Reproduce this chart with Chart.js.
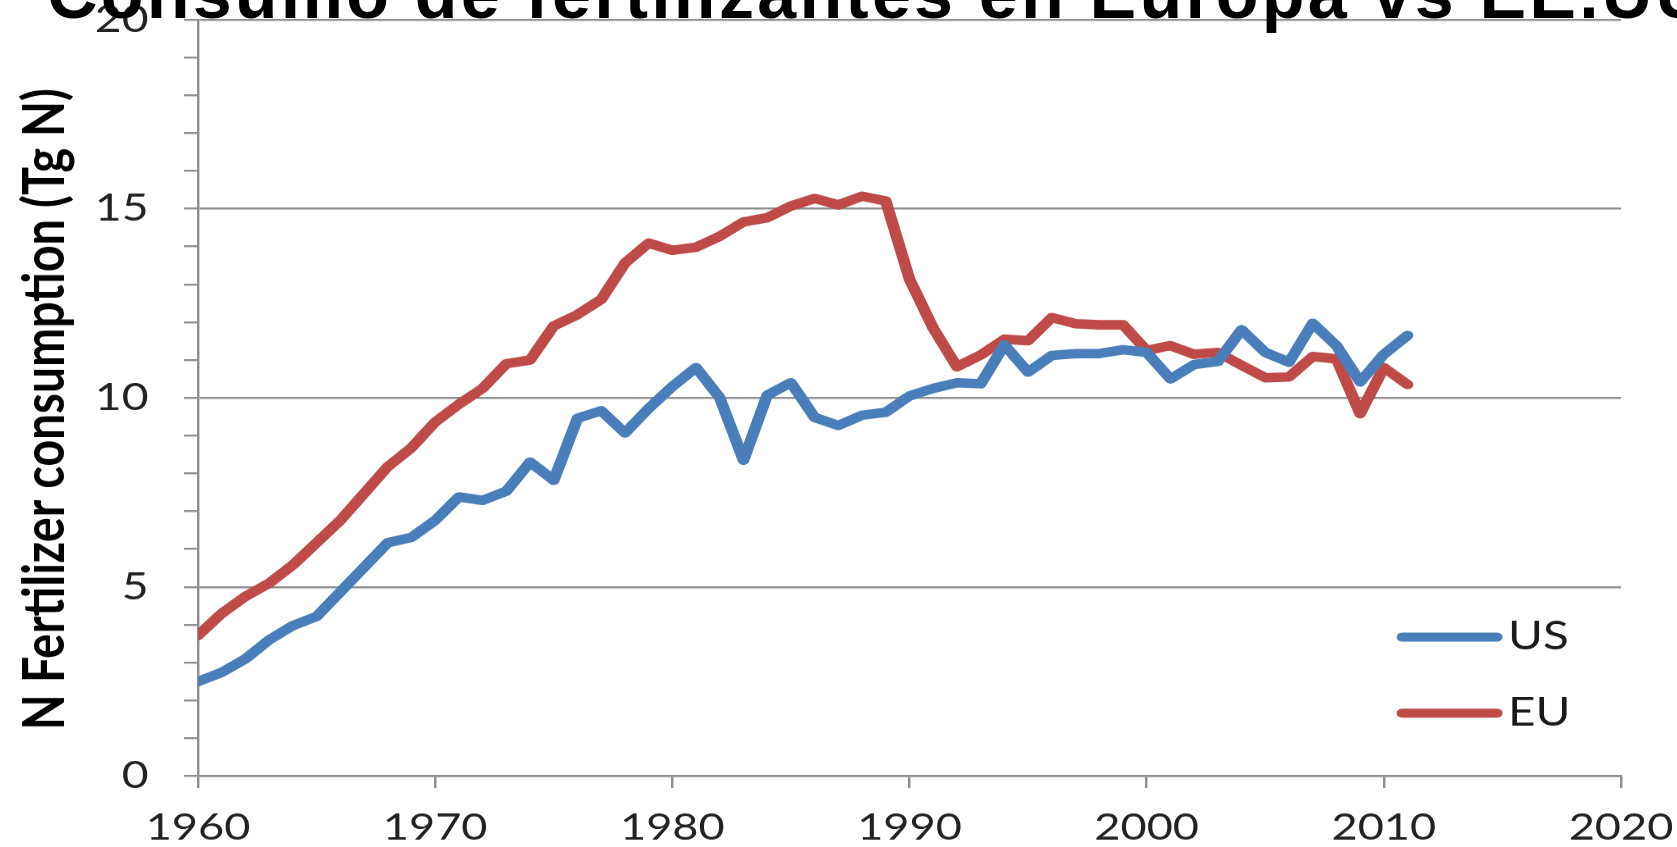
<!DOCTYPE html>
<html>
<head>
<meta charset="utf-8">
<script src="https://cdn.jsdelivr.net/npm/chart.js@4.4.0/dist/chart.umd.min.js"></script>
<style>
  html, body { margin: 0; padding: 0; background: #fff; overflow: hidden; }
  #wrap { position: relative; width: 1677px; height: 847px; }
  #chart { position: absolute; left: 0; top: 0; }
  #title {
    position: absolute; left: 47px; top: -41.5px;
    font: bold 70px "Liberation Sans", Arial, sans-serif;
    line-height: 70px; letter-spacing: 3.2px;
    white-space: nowrap; color: #000;
  }
</style>
</head>
<body>
<div id="wrap">
  <canvas id="chart" width="1375" height="847" style="width:1677px;height:847px"></canvas>
  <div id="title">Consumo de fertilizantes en Europa vs EE.UU</div>
</div>
<script>
// data
const years = [1960,1961,1962,1963,1964,1965,1966,1967,1968,1969,
               1970,1971,1972,1973,1974,1975,1976,1977,1978,1979,
               1980,1981,1982,1983,1984,1985,1986,1987,1988,1989,
               1990,1991,1992,1993,1994,1995,1996,1997,1998,1999,
               2000,2001,2002,2003,2004,2005,2006,2007,2008,2009,
               2010,2011];
const usValues = [2.5,2.74,3.1,3.6,3.98,4.22,4.87,5.52,6.17,6.31,
                  6.76,7.38,7.29,7.53,8.3,7.82,9.46,9.66,9.07,9.72,
                  10.3,10.8,10.0,8.35,10.07,10.4,9.48,9.27,9.54,9.62,
                  10.05,10.25,10.4,10.37,11.4,10.68,11.12,11.17,11.17,11.27,
                  11.2,10.5,10.88,10.96,11.8,11.2,10.94,11.97,11.38,10.42,
                  11.15,11.65];
const euValues = [3.72,4.3,4.75,5.1,5.58,6.17,6.76,7.47,8.18,8.68,
                  9.36,9.83,10.25,10.9,11.0,11.9,12.2,12.6,13.56,14.09,
                  13.9,13.98,14.27,14.65,14.76,15.07,15.27,15.1,15.33,15.2,
                  13.14,11.84,10.82,11.13,11.55,11.51,12.12,11.96,11.93,11.93,
                  11.25,11.38,11.15,11.2,10.86,10.53,10.55,11.09,11.03,9.58,
                  10.8,10.35];
const seriesLabels = ['US', 'EU'];
const xTickLabels = [1960, 1970, 1980, 1990, 2000, 2010, 2020];
const yTickLabels = [0, 5, 10, 15, 20];
const yTitle = 'N Fertilizer consumption (Tg N)';

// the original picture is stretched sideways, so the canvas is too
const SX = 1677 / 1375;
const gray = '#8f8f8f';
const colors = ['#4A7EBB', '#BE4B48'];

function toPoints(vals) {
  return years.map((y, i) => ({ x: y, y: vals[i] }));
}

const yTitlePlugin = {
  id: 'yTitle',
  afterDraw(chart) {
    const ctx = chart.ctx;
    ctx.save();
    ctx.translate(64 / SX, 409);
    ctx.rotate(-Math.PI / 2);
    ctx.font = 'bold 46.5px Lato';
    ctx.fillStyle = '#000';
    ctx.textAlign = 'center';
    ctx.textBaseline = 'alphabetic';
    ctx.fillText(yTitle, 0, 0);
    ctx.restore();
  }
};

const legendPlugin = {
  id: 'boxLegend',
  afterDatasetsDraw(chart) {
    const ctx = chart.ctx;
    const rowY = [637, 713];
    ctx.save();
    chart.data.datasets.forEach((ds, i) => {
      ctx.strokeStyle = ds.borderColor;
      ctx.lineWidth = 9;
      ctx.lineCap = 'round';
      ctx.beginPath();
      ctx.moveTo(1402 / SX, rowY[i]);
      ctx.lineTo(1497 / SX, rowY[i]);
      ctx.stroke();
      ctx.fillStyle = '#1a1a1a';
      ctx.font = '39px Lato';
      ctx.textAlign = 'left';
      ctx.textBaseline = 'middle';
      ctx.fillText(ds.label, 1508 / SX, rowY[i]);
    });
    ctx.restore();
  }
};

new Chart(document.getElementById('chart'), {
  type: 'line',
  data: {
    datasets: [{
      label: seriesLabels[0],
      data: toPoints(usValues),
      borderColor: colors[0]
    }, {
      label: seriesLabels[1],
      data: toPoints(euValues),
      borderColor: colors[1]
    }]
  },
  options: {
    responsive: false,
    devicePixelRatio: SX + 0.0001,
    animation: false,
    layout: { padding: { top: 19.5, right: 46, left: 0, bottom: 0 } },
    plugins: { legend: { display: false }, tooltip: { enabled: false } },
    elements: {
      point: { radius: 0 },
      line: { tension: 0, borderWidth: 9.5, borderCapStyle: 'round', borderJoinStyle: 'round', fill: false }
    },
    scales: {
      x: {
        type: 'linear',
        min: 1960,
        max: 2020,
        afterFit: s => { s.height = 71; s.paddingLeft = 0; s.paddingRight = 0; },
        ticks: {
          stepSize: 10,
          padding: 21,
          color: '#222',
          font: { family: 'Lato', size: 37, lineHeight: 1 },
          maxRotation: 0,
          callback: v => xTickLabels.includes(v) ? String(v) : ''
        },
        grid: { drawOnChartArea: false, tickLength: 12, tickColor: gray, lineWidth: 2 },
        border: { color: gray, width: 2 }
      },
      y: {
        min: 0,
        max: 20,
        afterFit: s => { s.width = 198 / SX; s.paddingTop = 0; s.paddingBottom = 0; },
        ticks: {
          stepSize: 1,
          autoSkip: false,
          padding: 29,
          color: '#222',
          font: { family: 'Lato', size: 38, lineHeight: 1 },
          callback: v => yTickLabels.includes(v) ? String(v) : ''
        },
        grid: {
          tickLength: 11.5,
          lineWidth: 2,
          color: c => yTickLabels.includes(c.tick.value) ? gray : 'rgba(0,0,0,0)',
          tickColor: gray
        },
        border: { color: gray, width: 2 }
      }
    }
  },
  plugins: [yTitlePlugin, legendPlugin]
});
</script>
</body>
</html>
